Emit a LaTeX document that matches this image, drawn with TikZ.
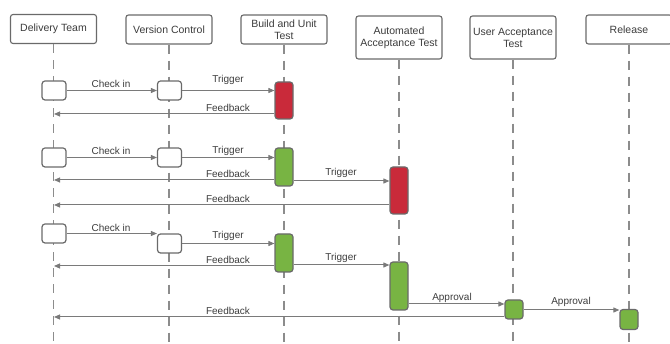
\documentclass[tikz,border=0pt]{standalone}
\usepackage{fontspec}
\setmainfont{Liberation Sans}
\usetikzlibrary{arrows.meta}
\definecolor{edge}{HTML}{6A6A6A}
\definecolor{wire}{HTML}{7A7A7A}
\definecolor{life}{HTML}{8C8C8C}
\definecolor{ink}{HTML}{3C3C3C}
\definecolor{failred}{HTML}{C92A3A}
\definecolor{passgreen}{HTML}{78B443}
\tikzset{
  header/.style={draw=edge, line width=1.1pt, rounded corners=2.5pt, fill=white,
    minimum width=86pt, minimum height=29pt, align=center, inner sep=1pt,
    text=ink, font=\fontsize{10.5}{12}\selectfont},
  lifeline/.style={draw=life, line width=1.1pt, dash pattern=on 9pt off 7pt},
  actbox/.style={draw=edge, line width=1.2pt, rounded corners=3pt, fill=white,
    minimum width=24pt, minimum height=19pt, inner sep=0pt},
  failbox/.style={actbox, fill=failred, minimum width=18pt},
  passbox/.style={actbox, fill=passgreen, minimum width=18pt},
  msg/.style={draw=wire, line width=1pt, -{Triangle[length=6pt,width=5pt]}},
  lbl/.style={text=ink, font=\fontsize{10}{11}\selectfont, inner sep=1.5pt}
}
\begin{document}
\begin{tikzpicture}[x=1pt, y=-1pt]
\useasboundingbox (0,0) rectangle (670,344);

% participants
\node[header] (dt) at (53.5,29) {Delivery Team};
\node[header] (vc) at (169,29.5) {Version Control};
\node[header] (bu) at (284,29.5) {Build and Unit\\Test};
\node[header, minimum height=43pt] (at) at (399,37.5) {Automated\\Acceptance Test};
\node[header, minimum height=43pt] (ut) at (513,37.5) {User Acceptance\\Test};
\node[header] (rl) at (629,29.5) {Release};

% lifelines
\foreach \p in {dt,vc,bu,at,ut,rl}{
  \coordinate (\p-end) at (\p.south |- 0,344);
  \draw[lifeline] (\p.south) -- (\p-end);
}

% feedback end points on the delivery team lifeline
\coordinate (fa) at (54,114);
\coordinate (fb) at (54,180);
\coordinate (fc) at (54,205);
\coordinate (fd) at (54,266);
\coordinate (fe) at (54,317);

% run 1: build fails
\node[actbox] (d1) at (54,90.5) {};
\node[actbox] (v1) at (169.5,90.5) {};
\node[failbox, minimum height=37pt] (b1) at (284,100.5) {};
\draw[msg] (d1.east) -- (v1.west);
\draw[msg] (v1.east) -- (b1.west |- v1.east);
\draw[msg] (b1.west |- fa) -- (fa);
\node[lbl] (l1a) at (111,84) {Check in};
\node[lbl] (l1b) at (228,80) {Trigger};
\node[lbl] (l1c) at (228,108) {Feedback};

% run 2: build passes, acceptance fails
\node[actbox] (d2) at (54,157.5) {};
\node[actbox] (v2) at (169.5,157.5) {};
\node[passbox, minimum height=38pt] (b2) at (284,167) {};
\node[failbox, minimum height=47pt] (a2) at (399,190.5) {};
\draw[msg] (d2.east) -- (v2.west);
\draw[msg] (v2.east) -- (b2.west |- v2.east);
\draw[msg] (b2.west |- fb) -- (fb);
\draw[msg] (b2.east |- 0,181) -- (a2.west |- 0,181);
\draw[msg] (a2.west |- fc) -- (fc);
\node[lbl] (l2a) at (111,151) {Check in};
\node[lbl] (l2b) at (228,151) {Trigger};
\node[lbl] (l2c) at (228,174) {Feedback};
\node[lbl] (l2d) at (341,173) {Trigger};
\node[lbl] (l2e) at (228,199) {Feedback};

% run 3: everything passes through to release
\node[actbox] (d3) at (54,233.5) {};
\node[actbox] (v3) at (169.5,243.5) {};
\node[passbox, minimum height=38pt] (b3) at (284,253) {};
\node[passbox, minimum height=48pt] (a3) at (399,286) {};
\node[passbox] (u3) at (514,309.5) {};
\node[passbox, minimum height=20pt] (r3) at (629,319.5) {};
\draw[msg] (d3.east) -- (v3.west |- d3.east);
\draw[msg] (v3.east) -- (b3.west |- v3.east);
\draw[msg] (b3.west |- fd) -- (fd);
\draw[msg] (b3.east |- 0,265) -- (a3.west |- 0,265);
\draw[msg] (a3.east |- 0,304) -- (u3.west |- 0,304);
\draw[msg] (u3.west |- fe) -- (fe);
\draw[msg] (u3.east |- 0,310) -- (r3.west |- 0,310);
\node[lbl] (l3a) at (111,228) {Check in};
\node[lbl] (l3b) at (228,236) {Trigger};
\node[lbl] (l3c) at (228,260) {Feedback};
\node[lbl] (l3d) at (341,258) {Trigger};
\node[lbl] (l3e) at (452,298) {Approval};
\node[lbl] (l3f) at (228,311) {Feedback};
\node[lbl] (l3g) at (571,302) {Approval};
\end{tikzpicture}
\end{document}
